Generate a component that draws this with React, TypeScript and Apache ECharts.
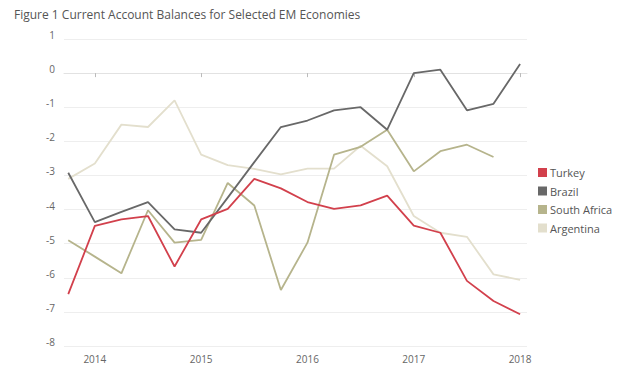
import React, { useEffect, useRef } from "react";
import * as echarts from "echarts";

const title = "Figure 1 Current Account Balances for Selected EM Economies";
const yearTicks = [1, 5, 9, 13, 17];
const yearLabels = ["2014", "2015", "2016", "2017", "2018"];

const turkey = [-6.48, -4.48, -4.29, -4.19, -5.67, -4.29, -3.98, -3.1, -3.38, -3.78, -3.98, -3.88, -3.59, -4.47, -4.68, -6.09, -6.68, -7.07];
const brazil = [-2.92, -4.37, -4.07, -3.78, -4.58, -4.68, -3.65, -2.61, -1.58, -1.39, -1.09, -1.0, -1.66, 0.0, 0.1, -1.09, -0.9, 0.27];
const southAfrica = [-4.9, -5.38, -5.87, -4.02, -4.97, -4.89, -3.22, -3.88, -6.36, -4.97, -2.39, -2.16, -1.66, -2.88, -2.29, -2.1, -2.46];
const argentina = [-3.1, -2.65, -1.51, -1.58, -0.8, -2.39, -2.7, -2.81, -2.97, -2.8, -2.8, -2.13, -2.73, -4.19, -4.68, -4.8, -5.9, -6.06];

const toPairs = (arr: number[]) => arr.map((v, i) => [i, v]);

export default function App() {
  const ref = useRef<HTMLDivElement>(null);
  useEffect(() => {
    if (!ref.current) return;
    const chart = echarts.init(ref.current, undefined, { renderer: "svg" });
    const font = "'Open Sans', sans-serif";
    chart.setOption({
      animation: false,
      backgroundColor: "#ffffff",
      title: {
        text: title,
        left: 9,
        top: 3,
        textStyle: { fontFamily: font, fontSize: 12, fontWeight: "normal", color: "#555" },
      },
      legend: {
        orient: "vertical",
        left: 533,
        top: 162,
        icon: "rect",
        itemWidth: 9,
        itemHeight: 9,
        itemGap: 7.5,
        textStyle: { fontFamily: font, fontSize: 11, color: "#555", padding: [0, 0, 0, -2] },
        data: ["Turkey", "Brazil", "South Africa", "Argentina"],
      },
      grid: { left: 64, right: 113, top: 39, bottom: 23, containLabel: false },
      xAxis: {
        type: "value",
        min: -0.16,
        max: 17.26,
        splitLine: { show: false },
        axisLine: { show: true, lineStyle: { color: "#e2e2e2", width: 1 } },
        axisTick: { show: true, customValues: yearTicks, length: 4, lineStyle: { color: "#bbb" } },
        axisLabel: {
          customValues: yearTicks,
          margin: 8,
          fontFamily: font,
          fontSize: 10,
          color: "#666",
          formatter: (v: number) => yearLabels[yearTicks.indexOf(Math.round(v))] ?? "",
        },
      },
      yAxis: {
        type: "value",
        min: -8,
        max: 1,
        interval: 1,
        axisLine: { show: false },
        axisTick: { show: false },
        splitLine: { lineStyle: { color: "#eeeeee", width: 1 } },
        axisLabel: { fontFamily: font, fontSize: 10, color: "#666", margin: 9, verticalAlign: "bottom", lineHeight: 8 },
      },
      series: [
        { name: "Argentina", type: "line", data: toPairs(argentina), symbol: "none", lineStyle: { width: 1.8, color: "#e3dfcd" }, itemStyle: { color: "#e3dfcd" } },
        { name: "South Africa", type: "line", data: toPairs(southAfrica), symbol: "none", lineStyle: { width: 1.8, color: "#b6b48c" }, itemStyle: { color: "#b6b48c" } },
        { name: "Brazil", type: "line", data: toPairs(brazil), symbol: "none", lineStyle: { width: 1.8, color: "#686868" }, itemStyle: { color: "#686868" } },
        { name: "Turkey", type: "line", data: toPairs(turkey), symbol: "none", lineStyle: { width: 1.8, color: "#d2404c" }, itemStyle: { color: "#d2404c" } },
      ],
    });
    return () => chart.dispose();
  }, []);
  return <div ref={ref} style={{ width: 640, height: 369, position: "fixed", left: 0, top: 0 }} />;
}
